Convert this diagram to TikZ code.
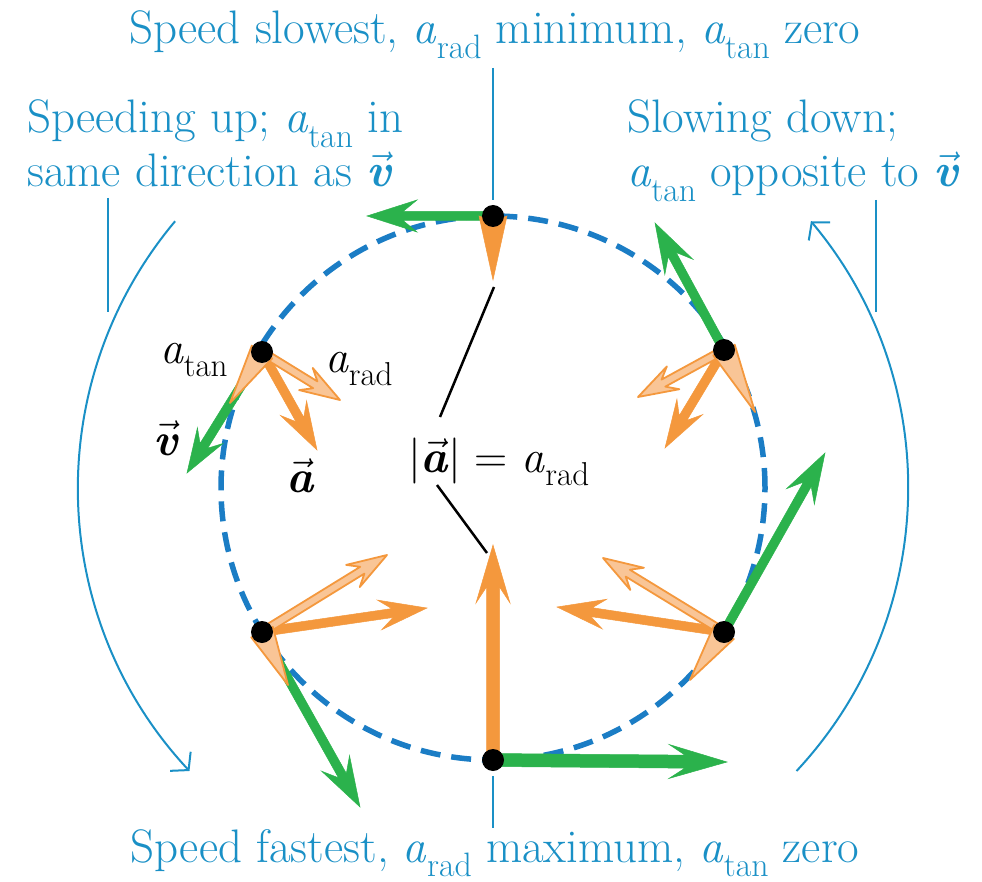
\documentclass[tikz,border=0pt]{standalone}
\usepackage{fix-cm}
\usepackage{fontspec}
\usepackage{graphicx}
\usetikzlibrary{calc,arrows.meta}
\definecolor{tblue}{HTML}{1A90C6}
\definecolor{cblue}{HTML}{1B7DC5}
\definecolor{vgreen}{HTML}{2BB24C}
\definecolor{aorange}{HTML}{F4983D}
\definecolor{lorange}{HTML}{F9C596}
\newcommand\sbs[1]{\raisebox{-0.3em}{\scalebox{0.72}{#1}}}
\newcommand\va{\textit{a}}
\newcommand\vecb[1]{$\vec{\mbox{\bfseries\itshape #1}}$}
\newcommand\setdims[4]{\def\vaW{#1}\def\vaH{#2}\def\vaL{#3}\def\vaM{#4}}
\newcommand\varrow[3]{%
  \coordinate (vaC) at ($(#3)!\vaL pt!(#2)$);
  \coordinate (vaD) at ($(#3)!\vaM pt!(#2)$);
  \filldraw[#1] ($(#2)!\vaW pt!90:(#3)$) -- ($(vaD)!\vaW pt!90:(#3)$) -- ($(vaC)!\vaH pt!90:(#3)$) -- (#3) -- ($(vaC)!\vaH pt!-90:(#3)$) -- ($(vaD)!\vaW pt!-90:(#3)$) -- ($(#2)!\vaW pt!-90:(#3)$) -- cycle;}
\newcommand\harrow[3]{%
  \filldraw[#1] ($(#2)!\vaH pt!90:(#3)$) -- (#3) -- ($(#2)!\vaH pt!-90:(#3)$) -- ($(#2)!\vaM pt!(#3)$) -- cycle;}
\tikzset{
  greenvec/.style={fill=vgreen, draw=vgreen, line width=0.5pt},
  orangevec/.style={fill=aorange, draw=aorange, line width=0.5pt},
  lightvec/.style={fill=lorange, draw=aorange, line width=1.8pt, line join=round},
  dot/.style={circle, fill=black, minimum size=22pt, inner sep=0pt},
  bluetext/.style={text=tblue, font=\fontsize{47}{51}\selectfont\addfontfeatures{FakeBold=0.4}, inner sep=0pt},
  blacklabel/.style={text=black, font=\fontsize{46}{50}\selectfont\addfontfeatures{FakeBold=0.3}, inner sep=0pt},
  guide/.style={tblue, line width=2pt},
  leader/.style={black, line width=2.5pt},
  path/.style={cblue, line width=5.5pt, dash pattern=on 20pt off 11pt}
}
\begin{document}
\begin{tikzpicture}[x=1pt,y=-1pt]
\useasboundingbox (0,0) rectangle (982,882);
% particle positions
\coordinate (O) at (493,488);
\coordinate (P1) at (493,216);
\coordinate (P2) at (262,352);
\coordinate (P3) at (262,632);
\coordinate (P4) at (493,760);
\coordinate (P5) at (724,632);
\coordinate (P6) at (724,350);
% path
\draw[path] (O) circle[radius=272pt];
% direction arcs
\draw[guide, -{Straight Barb[length=12pt,width=28pt]}] ($(O)+(140:415pt)$) arc[start angle=140, end angle=223, radius=415pt];
\draw[guide, -{Straight Barb[length=12pt,width=28pt]}] ($(O)+(-43:415pt)$) arc[start angle=-43, end angle=40, radius=415pt];
% vector tips
\coordinate (v1) at (367,216);
\coordinate (r1) at (493,280);
\coordinate (v2) at (187,473);
\coordinate (a2) at (317,450);
\coordinate (r2) at (340,400);
\coordinate (t2) at (230,403);
\coordinate (v3) at (360,807);
\coordinate (a3) at (427,608);
\coordinate (r3) at (387,555);
\coordinate (t3) at (288,685);
\coordinate (r4) at (493,545);
\coordinate (v4) at (727,762);
\coordinate (v5) at (825,453);
\coordinate (a5) at (557,607);
\coordinate (r5) at (603,558);
\coordinate (t5) at (690,680);
\coordinate (v6) at (655,223);
\coordinate (a6) at (665,448);
\coordinate (r6) at (638,397);
\coordinate (t6) at (755,412);
% green velocity vectors
\setdims{4.5}{16}{50}{36}
\varrow{greenvec}{P1}{v1}
\varrow{greenvec}{P3}{v3}
\varrow{greenvec}{P5}{v5}
\varrow{greenvec}{P6}{v6}
\setdims{4.5}{15}{44}{32}
\varrow{greenvec}{P2}{v2}
% bottom vectors
\setdims{6.5}{17}{58}{42}
\varrow{greenvec}{P4}{v4}
\varrow{orangevec}{P4}{r4}
% total acceleration vectors
\setdims{4.5}{15}{48}{35}
\varrow{orangevec}{P2}{a2}
\varrow{orangevec}{P3}{a3}
\varrow{orangevec}{P5}{a5}
\varrow{orangevec}{P6}{a6}
% radial components
\setdims{4}{13}{40}{29}
\varrow{lightvec}{P2}{r2}
\varrow{lightvec}{P3}{r3}
\varrow{lightvec}{P5}{r5}
\varrow{lightvec}{P6}{r6}
% tangential components
\setdims{0}{12}{0}{5}
\harrow{lightvec}{P2}{t2}
\harrow{lightvec}{P3}{t3}
\harrow{lightvec}{P5}{t5}
\harrow{lightvec}{P6}{t6}
\setdims{0}{14}{0}{5}
\harrow{orangevec}{P1}{r1}
% particles
\foreach \i in {1,...,6} \node[dot] (d\i) at (P\i) {};
% blue labels
\node[bluetext, anchor=base] (top) at (495,44) {Speed slowest, \va\sbs{rad} minimum, \va\sbs{tan} zero};
\node[bluetext, anchor=base] (bot) at (495,862) {Speed fastest, \va\sbs{rad} maximum, \va\sbs{tan} zero};
\node[bluetext, anchor=base west] (l1) at (27,133) {Speeding up; \va\sbs{tan} in};
\node[bluetext, anchor=base west] (l2) at (27,187) {same direction as \vecb{v}};
\node[bluetext, anchor=base west] (r1t) at (627,133) {Slowing down;};
\node[bluetext, anchor=base west] (r2t) at (627,187) {\va\sbs{tan} opposite to \vecb{v}};
% guide lines
\coordinate (gt1) at (493,68);  \coordinate (gt2) at (493,200);
\coordinate (gb1) at (493,776); \coordinate (gb2) at (493,828);
\coordinate (gl1) at (108,198); \coordinate (gl2) at (108,312);
\coordinate (gr1) at (876,200); \coordinate (gr2) at (876,312);
\draw[guide] (gt1) -- (gt2);
\draw[guide] (gb1) -- (gb2);
\draw[guide] (gl1) -- (gl2);
\draw[guide] (gr1) -- (gr2);
% black labels
\node[blacklabel, anchor=base west] (lt) at (160,363) {\va\sbs{tan}};
\node[blacklabel, anchor=base west] (lr) at (325,372) {\va\sbs{rad}};
\node[blacklabel, anchor=base] (lv) at (166,455) {\vecb{v}};
\node[blacklabel, anchor=base] (la) at (300,492) {\vecb{a}};
\node[blacklabel, anchor=base west] (eq) at (408,472) {|\vecb{a}|~=~\va\sbs{rad}};
% leaders
\coordinate (k1) at (494,287); \coordinate (k2) at (440,417);
\coordinate (k3) at (437,485); \coordinate (k4) at (487,553);
\draw[leader] (k1) -- (k2);
\draw[leader] (k3) -- (k4);
\end{tikzpicture}
\end{document}
